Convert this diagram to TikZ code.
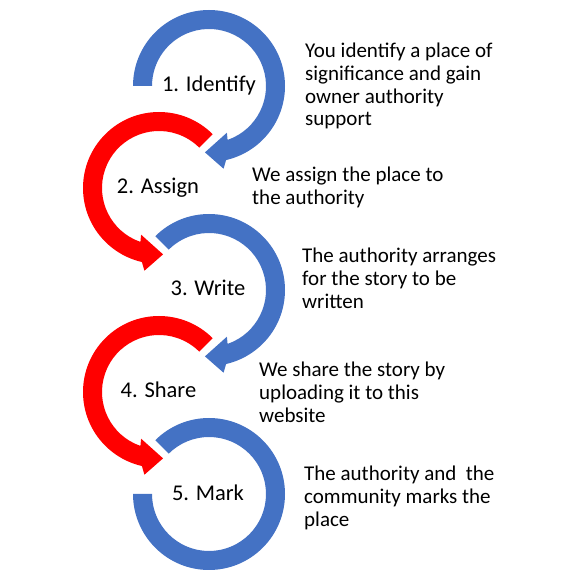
\documentclass[tikz,border=0pt]{standalone}
\usepackage{fontspec}
\setmainfont{Carlito}
\definecolor{stepblue}{HTML}{4472C4}
\definecolor{stepred}{HTML}{FF0000}
\usetikzlibrary{positioning}

\begin{document}
\begin{tikzpicture}[x=1pt, y=1pt,
	steplabel/.style={font=\fontsize{22.5}{27}\selectfont, anchor=base, inner sep=0pt},
	stepnote/.style={font=\fontsize{21}{22.6}\selectfont, align=left, anchor=north west, inner sep=0pt}]
	\useasboundingbox (0,0) rectangle (573,574);
	% arrowed rings, red ones mirrored
	\foreach \cx/\cy/\col/\s/\a in {209/488/stepblue/1/180, 159/386/stepred/-1/135, 209/284/stepblue/1/135, 159/182/stepred/-1/135}{
		\begin{scope}[shift={(\cx,\cy)}, xscale=\s]
			\fill[\col] (\a:76) arc[start angle=\a, end angle=-77, radius=76]
				-- (-80:84) -- (-93.5:66.5) -- (-69:50) -- (-71:57)
				arc[start angle=-71, end angle=\a, radius=57] -- cycle;
		\end{scope}
	}
	% last ring, no head
	\fill[stepblue, shift={(209,80)}] (135:76) arc[start angle=135, end angle=-180, radius=76]
		-- (-180:57) arc[start angle=-180, end angle=135, radius=57] -- cycle;

	\node[steplabel] (identify) at (209,482.3) {1. Identify};
	\node[steplabel] (assign) at (158,380) {2. Assign};
	\node[steplabel] (write) at (208,278) {3. Write};
	\node[steplabel] (share) at (158.5,176) {4. Share};
	\node[steplabel] (mark) at (208,74) {5. Mark};

	\node[stepnote] (identifynote) at (305,530.8) {You identify a place of\\significance and gain\\owner authority\\support};
	\node[stepnote] (assignnote) at (252,406.8) {We assign the place to\\the authority};
	\node[stepnote] (writenote) at (302,325.8) {The authority arranges\\for the story to be\\written};
	\node[stepnote] (sharenote) at (259,211.8) {We share the story by\\uploading it to this\\website};
	\node[stepnote] (marknote) at (304,107.8) {The authority and~ the\\community marks the\\place};
\end{tikzpicture}
\end{document}
